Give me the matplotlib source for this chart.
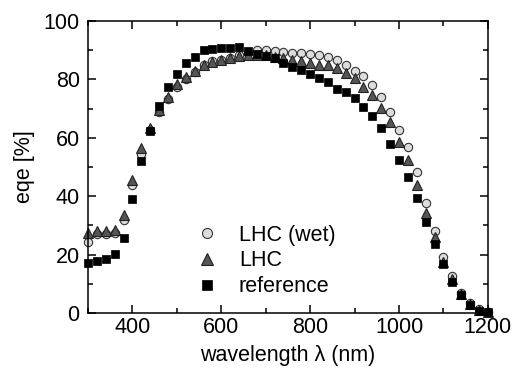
import numpy as np
import matplotlib
matplotlib.use("Agg")
import matplotlib.pyplot as plt
from matplotlib.ticker import MultipleLocator

# wavelength grid (nm)
wavelength = np.arange(300, 1201, 20)

# external quantum efficiency [%]
eqe_wet = [24.3, 27.2, 27.2, 27.3, 31.7, 44.0, 54.5, 62.8, 69.0, 73.3,
           77.4, 80.2, 82.5, 84.8, 86.2, 86.8, 87.4, 88.3, 89.2, 89.9,
           89.9, 89.7, 89.5, 89.2, 88.9, 88.6, 88.2, 87.6, 86.5, 84.8,
           83.0, 81.2, 78.1, 73.9, 68.9, 62.8, 56.7, 48.2, 37.8, 28.2,
           19.3, 12.7, 7.0, 3.3, 1.2, 0.4]
eqe_lhc = [27.3, 28.2, 28.2, 28.5, 33.4, 45.5, 56.5, 63.5, 69.5, 74.0,
           78.3, 80.7, 82.9, 84.9, 86.0, 86.8, 87.3, 88.0, 88.4, 88.5,
           88.4, 87.8, 87.2, 86.8, 86.2, 85.7, 85.1, 84.9, 84.0, 82.1,
           80.4, 77.5, 74.7, 70.1, 65.5, 58.5, 52.3, 43.8, 34.4, 26.1,
           17.6, 11.5, 6.5, 3.0, 1.0, 0.3]
eqe_ref = [17.2, 17.9, 18.5, 20.3, 25.8, 39.0, 52.1, 62.4, 70.9, 77.3,
           81.9, 85.5, 87.6, 89.9, 90.5, 90.6, 90.6, 91.0, 89.8, 88.8,
           87.9, 87.2, 85.6, 84.4, 83.3, 82.0, 80.5, 79.0, 76.8, 75.7,
           73.5, 70.7, 67.4, 63.2, 57.9, 52.4, 46.5, 39.5, 31.1, 23.7,
           16.9, 10.7, 6.2, 2.6, 0.7, 0.2]

plt.rcParams['font.family'] = ['Liberation Sans', 'DejaVu Sans']
plt.rcParams['font.size'] = 15.5

fig = plt.figure(figsize=(5.19, 3.77), dpi=100)
ax = fig.add_axes([0.1696, 0.1698, 0.7704, 0.7745])

ax.plot(wavelength, eqe_wet, 'o', ms=6, mfc='#dcdcdc', mec='#333333', mew=0.8,
        label='LHC (wet)', clip_on=False)
ax.plot(wavelength, eqe_lhc, '^', ms=7, mfc='#555555', mec='#222222', mew=0.8,
        label='LHC', clip_on=False)
ax.plot(wavelength, eqe_ref, 's', ms=5.5, mfc='black', mec='black', mew=0.5,
        label='reference', clip_on=False)

ax.set_xlim(300, 1200)
ax.set_ylim(0, 100)
ax.xaxis.set_major_locator(MultipleLocator(200))
ax.xaxis.set_minor_locator(MultipleLocator(100))
ax.yaxis.set_major_locator(MultipleLocator(20))
ax.yaxis.set_minor_locator(MultipleLocator(10))
ax.set_xticks([400, 600, 800, 1000, 1200])
ax.tick_params(which='both', direction='in', top=True, right=True, width=1.1)
ax.tick_params(which='major', length=5.5)
ax.tick_params(which='minor', length=3.5)
ax.tick_params(axis='x', pad=3)
ax.tick_params(axis='y', pad=6)
for s in ax.spines.values():
    s.set_linewidth(1.1)

ax.set_xlabel('wavelength λ (nm)', labelpad=5)
ax.set_ylabel('eqe [%]', labelpad=6)

ax.legend(loc='lower left', bbox_to_anchor=(0.232, 0.003), frameon=False,
          handlelength=1.0, handletextpad=1.0, labelspacing=0.22,
          borderpad=0.2, numpoints=1, fontsize=15.5, markerscale=1.2)

fig.savefig('out.png', dpi=100)
